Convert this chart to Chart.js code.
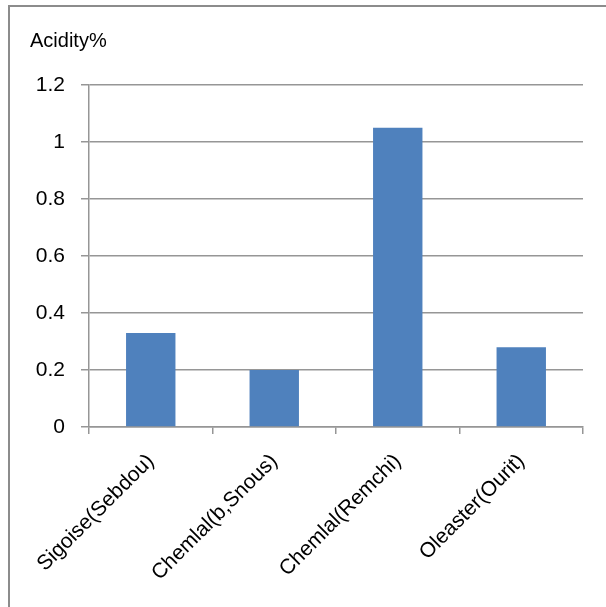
<!DOCTYPE html>
<html>
<head>
<meta charset="utf-8">
<script src="https://cdn.jsdelivr.net/npm/chart.js@4/dist/chart.umd.min.js"></script>
<style>
    body { margin: 0; background: #fff; overflow: hidden; }
    .frame {
        position: absolute;
        left: 8px;
        top: 5px;
        width: 620px;
        height: 640px;
        border-left: 2px solid #8c8c8c;
        border-top: 2px solid #8c8c8c;
    }
    .frame canvas { position: absolute; left: 0; top: 0; }
</style>
</head>
<body>
<div class="frame">
    <canvas id="acidityChart" width="596" height="600"></canvas>
</div>
<script>
// Acidity by olive variety / origin
const varieties = ['Sigoise(Sebdou)', 'Chemlal(b,Snous)', 'Chemlal(Remchi)', 'Oleaster(Ourit)'];
const acidity = [0.33, 0.2, 1.05, 0.28];
const yTicks = [0, 0.2, 0.4, 0.6, 0.8, 1, 1.2];

const family = '"Liberation Sans Narrow", "Arial Narrow", sans-serif';
const tickFont = { family: family, size: 21, weight: 'normal' };
const titleFont = { family: family, size: 20, weight: 'normal' };
const gridColor = '#969696';

const ctx = document.getElementById('acidityChart').getContext('2d');
new Chart(ctx, {
    type: 'bar',
    data: {
        labels: varieties,
        datasets: [{
            label: 'Acidity%',
            data: acidity,
            backgroundColor: '#4f81bd',
            borderWidth: 0,
            barPercentage: 0.4,
            categoryPercentage: 1
        }]
    },
    options: {
        responsive: false,
        animation: false,
        layout: {
            padding: { left: 20, right: 23, top: 0, bottom: 0 }
        },
        plugins: {
            legend: { display: false },
            tooltip: { enabled: false },
            title: {
                display: true,
                text: 'Acidity%',
                align: 'start',
                color: '#000',
                font: titleFont,
                padding: { top: 22, bottom: 32 }
            }
        },
        scales: {
            x: {
                afterFit: (scale) => { scale.height = 180; },
                border: { display: true, color: gridColor, width: 1.5 },
                grid: {
                    offset: true,
                    drawOnChartArea: false,
                    drawTicks: true,
                    tickLength: 7,
                    color: gridColor,
                    lineWidth: 1.5
                },
                ticks: {
                    color: '#000',
                    font: tickFont,
                    minRotation: 45,
                    maxRotation: 45,
                    padding: 15
                }
            },
            y: {
                min: 0,
                max: 1.2,
                afterFit: (scale) => { scale.width = 59; },
                afterBuildTicks: (scale) => {
                    scale.ticks = yTicks.map(v => ({ value: v }));
                },
                border: { display: true, color: gridColor, width: 1.5 },
                grid: {
                    color: gridColor,
                    lineWidth: 1.5,
                    drawTicks: true,
                    tickLength: 8
                },
                ticks: {
                    color: '#000',
                    font: tickFont,
                    padding: 16,
                    callback: (v) => String(Math.round(v * 10) / 10)
                }
            }
        }
    }
});
</script>
</body>
</html>
